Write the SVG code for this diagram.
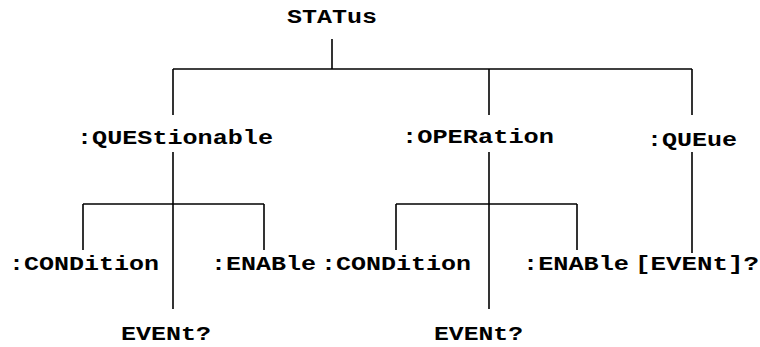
<svg xmlns="http://www.w3.org/2000/svg" width="760" height="347" viewBox="0 0 760 347">
<style>
.t{font-family:"Liberation Mono","Courier New",monospace;font-weight:bold;font-size:20px;fill:#000}
.c line{stroke:#000;stroke-width:1.6;fill:none}
</style>
<rect width="760" height="347" fill="#fff"/>
<g class="c" id="connectors">
<line x1="332" y1="39" x2="332" y2="69"/>
<line x1="173" y1="69" x2="692" y2="69"/>
<line x1="173" y1="69" x2="173" y2="115"/>
<line x1="489" y1="69" x2="489" y2="115"/>
<line x1="692" y1="69" x2="692" y2="115"/>
<line x1="173" y1="152" x2="173" y2="309"/>
<line x1="83" y1="204" x2="264" y2="204"/>
<line x1="83" y1="204" x2="83" y2="250"/>
<line x1="264" y1="204" x2="264" y2="250"/>
<line x1="489" y1="152" x2="489" y2="309"/>
<line x1="396" y1="204" x2="577" y2="204"/>
<line x1="396" y1="204" x2="396" y2="250"/>
<line x1="577" y1="204" x2="577" y2="250"/>
<line x1="692" y1="152" x2="692" y2="253"/>
</g>
<g id="status"><text class="t" x="287" y="23" textLength="90" lengthAdjust="spacingAndGlyphs">STATus</text></g>
<g id="questionable"><text class="t" x="77" y="144" textLength="196" lengthAdjust="spacingAndGlyphs">:QUEStionable</text></g>
<g id="operation"><text class="t" x="402" y="143" textLength="152" lengthAdjust="spacingAndGlyphs">:OPERation</text></g>
<g id="queue"><text class="t" x="647" y="146" textLength="90" lengthAdjust="spacingAndGlyphs">:QUEue</text></g>
<g id="q-condition"><text class="t" x="9" y="270" textLength="150" lengthAdjust="spacingAndGlyphs">:CONDition</text></g>
<g id="q-enable"><text class="t" x="211" y="270" textLength="105" lengthAdjust="spacingAndGlyphs">:ENABle</text></g>
<g id="o-condition"><text class="t" x="321" y="270" textLength="150" lengthAdjust="spacingAndGlyphs">:CONDition</text></g>
<g id="o-enable"><text class="t" x="523" y="270" textLength="106" lengthAdjust="spacingAndGlyphs">:ENABle</text></g>
<g id="queue-event"><text class="t" x="635" y="270" textLength="124" lengthAdjust="spacingAndGlyphs">[EVENt]?</text></g>
<g id="q-event"><text class="t" x="121" y="340" textLength="90" lengthAdjust="spacingAndGlyphs">EVENt?</text></g>
<g id="o-event"><text class="t" x="434" y="340" textLength="89" lengthAdjust="spacingAndGlyphs">EVENt?</text></g>
</svg>
